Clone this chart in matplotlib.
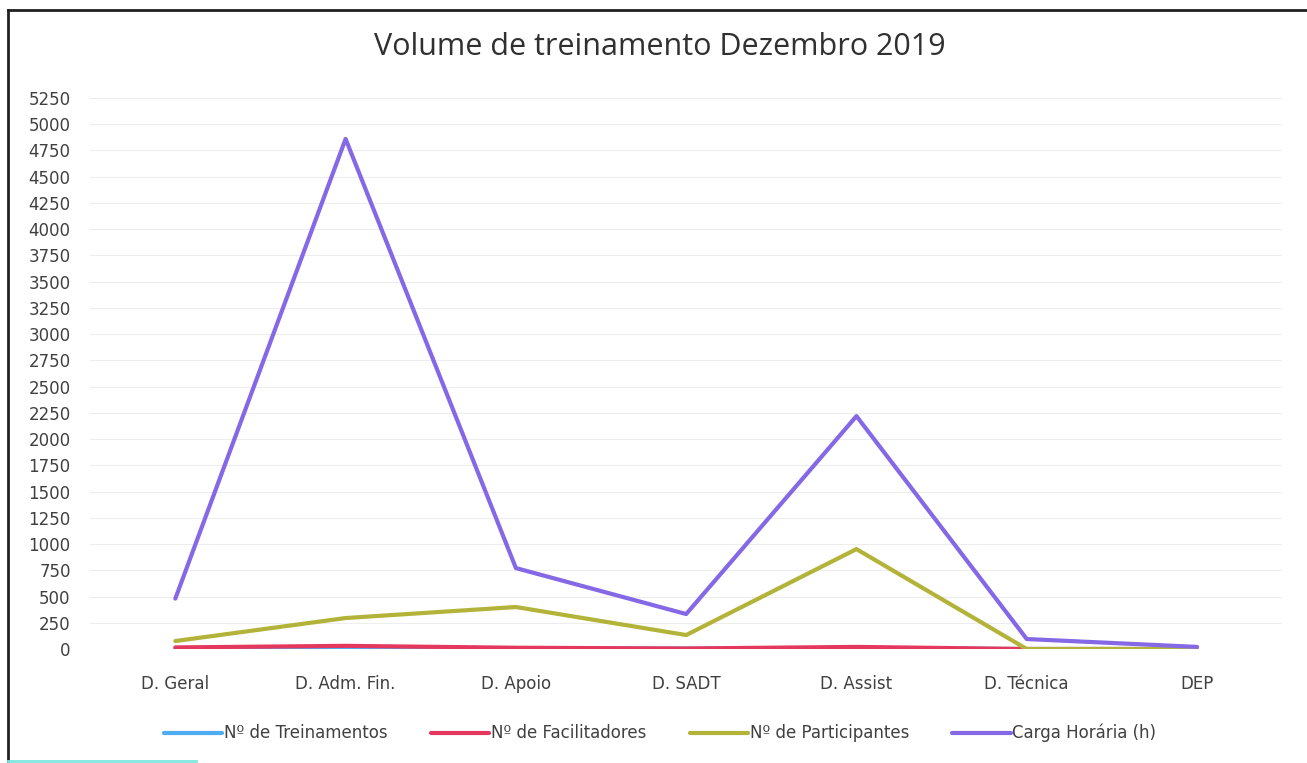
import matplotlib
matplotlib.use("Agg")
import matplotlib.pyplot as plt
from matplotlib.lines import Line2D

categories = ["D. Geral", "D. Adm. Fin.", "D. Apoio", "D. SADT", "D. Assist", "D. Técnica", "DEP"]
treinamentos = [6, 12, 6, 4, 9, 0, 0]
facilitadores = [15, 30, 12, 5, 20, 0, 0]
participantes = [76, 295, 400, 133, 952, 0, 0]
carga_horaria = [480, 4860, 771, 333, 2219, 95, 20]
y_ticks = list(range(0, 5251, 250))

SERIES = [
    ("Nº de Treinamentos", treinamentos, "#4DADF0"),
    ("Nº de Facilitadores", facilitadores, "#E5385E"),
    ("Nº de Participantes", participantes, "#B3B33A"),
    ("Carga Horária (h)", carga_horaria, "#8468E6"),
]

TEXT = "#404040"

fig = plt.figure(figsize=(13.07, 7.63), dpi=100)
ax = fig.add_axes([0.069, 0.1494, 0.912, 0.7222])

x = list(range(len(categories)))
for label, values, color in SERIES:
    ax.plot(x, values, color=color, linewidth=3.0, label=label, solid_capstyle="round")

ax.set_xlim(-0.5, len(categories) - 0.5)
ax.set_ylim(0, 5250)
ax.set_yticks(y_ticks)
ax.set_yticklabels([str(v) for v in y_ticks], fontsize=12, color=TEXT)
ax.set_xticks(x)
ax.set_xticklabels(categories, fontsize=12, color=TEXT)
ax.tick_params(axis="both", length=0)
ax.tick_params(axis="y", pad=14)
ax.tick_params(axis="x", pad=19)
ax.grid(axis="y", color="#ededed", linewidth=0.8)
ax.set_axisbelow(True)
for side in ax.spines.values():
    side.set_visible(False)

fig.text(0.505, 0.938, "Volume de treinamento Dezembro 2019", ha="center", va="center",
         fontsize=22, color="#303030", family="Open Sans")

fig.legend(loc="center", bbox_to_anchor=(0.505, 0.039), ncol=4, frameon=False,
           fontsize=12, handlelength=3.5, handletextpad=0.1, columnspacing=2.6,
           labelcolor=TEXT)

# outer frame of the chart sheet
fig.add_artist(Line2D([0.006, 0.006], [0.0, 0.987], color="#202020", linewidth=2, transform=fig.transFigure))
fig.add_artist(Line2D([0.006, 1.0], [0.987, 0.987], color="#202020", linewidth=2, transform=fig.transFigure))
fig.add_artist(Line2D([0.006, 0.15], [0.003, 0.003], color="#7FE8E0", linewidth=2, transform=fig.transFigure))

fig.savefig("out.png", dpi=100)
